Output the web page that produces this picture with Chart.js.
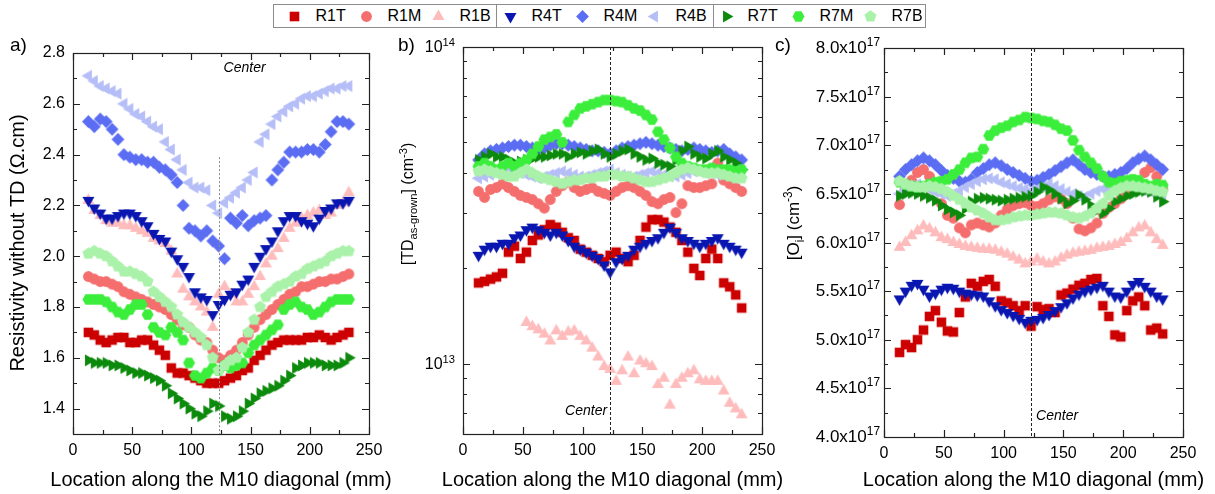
<!DOCTYPE html>
<html>
<head>
<meta charset="utf-8">
<title>Resistivity, TD and Oi along the M10 diagonal</title>
<script src="https://cdn.jsdelivr.net/npm/chart.js@4.4.1/dist/chart.umd.min.js"></script>
<style>
  body { margin: 0; background: #fff; }
  #page { position: relative; width: 1215px; height: 494px; overflow: hidden; font-family: "Liberation Sans", Arial, sans-serif; }
  #page > canvas { position: absolute; top: 0; }
  #legend { position: absolute; left: 273px; top: 4px; width: 651px; height: 22px; border: 1px solid #8c8c8c; background: #fff; z-index: 2; }
  .item { position: absolute; top: 0; height: 22px; display: flex; align-items: center; font-size: 16px; color: #000; }
  .item canvas { margin-right: 14px; }
  .sep { position: absolute; top: 0; width: 1px; height: 22px; background: #8c8c8c; }
</style>
</head>
<body>
<div id="page">
  <canvas id="chartA" width="400" height="494" style="left:0px"></canvas>
  <canvas id="chartB" width="400" height="494" style="left:390px"></canvas>
  <canvas id="chartC" width="445" height="494" style="left:770px"></canvas>
  <div id="legend"></div>
</div>
<script>
const FONT = '"Liberation Sans", Arial, sans-serif';

// Measurement positions along the diagonal (mm), shared by every series
const xPos = [13, 18, 23, 28, 33, 38, 43, 48, 53, 58, 63, 68, 73, 78, 83, 88, 93, 98, 103, 108, 113, 118, 123,
  128, 133, 138, 143, 148, 153, 158, 163, 168, 173, 178, 183, 188, 193, 198, 203, 208, 213, 218, 223, 228, 233];

const seriesNames = ['R1T', 'R1M', 'R1B', 'R4T', 'R4M', 'R4B', 'R7T', 'R7M', 'R7B'];

// Tick labels
const xTicks = [0, 50, 100, 150, 200, 250];
const resTicks = [1.4, 1.6, 1.8, 2.0, 2.2, 2.4, 2.6, 2.8];
const tdTicks = [1e13, 1e14];
const oiTicks = [4.0e17, 4.5e17, 5.0e17, 5.5e17, 6.0e17, 6.5e17, 7.0e17, 7.5e17, 8.0e17];
const centerPos = 123;
const xTitle = 'Location along the M10 diagonal (mm)';

// a) resistivity without TD (ohm.cm)
const resR1T = [1.70, 1.69, 1.67, 1.66, 1.67, 1.68, 1.68, 1.66, 1.66, 1.67, 1.67, 1.65, 1.63, 1.61, 1.56, 1.54, 1.54, 1.53, 1.52, 1.51, 1.50, 1.50, 1.50,
  1.51, 1.52, 1.53, 1.55, 1.56, 1.59, 1.61, 1.63, 1.65, 1.66, 1.67, 1.67, 1.67, 1.67, 1.68, 1.68, 1.69, 1.68, 1.67, 1.68, 1.69, 1.70];
const resR1M = [1.92, 1.91, 1.90, 1.90, 1.89, 1.88, 1.86, 1.85, 1.84, 1.83, 1.82, 1.81, 1.80, 1.79, 1.77, 1.75, 1.73, 1.72, 1.69, 1.67, 1.66, 1.63, 1.60,
  1.59, 1.61, 1.63, 1.66, 1.69, 1.72, 1.75, 1.77, 1.79, 1.81, 1.83, 1.85, 1.86, 1.88, 1.88, 1.89, 1.90, 1.90, 1.91, 1.91, 1.92, 1.93];
const resR1B = [2.22, 2.18, 2.16, 2.14, 2.13, 2.13, 2.12, 2.12, 2.11, 2.10, 2.09, 2.07, 2.06, 2.05, 2.02, 1.93, 1.87, 1.84, 1.82, 1.80, 1.78, 1.72, 1.85,
  1.88, 1.85, 1.82, 1.82, 1.85, 1.88, 1.92, 1.97, 2.00, 2.03, 2.07, 2.11, 2.13, 2.15, 2.16, 2.17, 2.18, 2.16, 2.17, 2.20, 2.21, 2.25];
const resR4T = [2.22, 2.19, 2.17, 2.15, 2.15, 2.16, 2.17, 2.17, 2.16, 2.14, 2.12, 2.09, 2.07, 2.06, 2.02, 1.99, 1.96, 1.92, 1.86, 1.84, 1.83, 1.77, 1.81,
  1.83, 1.85, 1.86, 1.89, 1.91, 1.96, 2.00, 2.03, 2.06, 2.10, 2.14, 2.16, 2.16, 2.14, 2.13, 2.12, 2.15, 2.18, 2.19, 2.21, 2.21, 2.22];
const resR4M = [2.53, 2.51, 2.54, 2.53, 2.50, 2.46, 2.40, 2.39, 2.38, 2.38, 2.37, 2.37, 2.35, 2.34, 2.32, 2.29, 2.20, 2.11, 2.10, 2.08, 2.10, 2.06, 2.04,
  1.99, 2.15, 2.13, 2.16, 2.12, 2.14, 2.15, 2.16, 2.30, 2.34, 2.37, 2.41, 2.41, 2.41, 2.42, 2.42, 2.41, 2.44, 2.49, 2.53, 2.53, 2.52];
const resR4B = [2.71, 2.69, 2.67, 2.66, 2.65, 2.64, 2.60, 2.58, 2.56, 2.55, 2.53, 2.51, 2.50, 2.45, 2.42, 2.38, 2.34, 2.29, 2.27, 2.27, 2.26, 2.20, 2.17,
  2.21, 2.23, 2.25, 2.27, 2.30, 2.33, 2.45, 2.48, 2.52, 2.55, 2.57, 2.59, 2.60, 2.62, 2.63, 2.63, 2.64, 2.65, 2.66, 2.66, 2.67, 2.67];
const resR7T = [1.59, 1.58, 1.58, 1.58, 1.57, 1.57, 1.56, 1.55, 1.54, 1.54, 1.53, 1.52, 1.51, 1.49, 1.46, 1.44, 1.42, 1.40, 1.38, 1.37, 1.39, 1.42, 1.41,
  1.37, 1.36, 1.37, 1.39, 1.42, 1.44, 1.46, 1.47, 1.48, 1.49, 1.51, 1.53, 1.56, 1.57, 1.58, 1.58, 1.58, 1.57, 1.57, 1.57, 1.58, 1.60];
const resR7M = [1.83, 1.83, 1.83, 1.82, 1.80, 1.78, 1.77, 1.79, 1.81, 1.81, 1.77, 1.72, 1.70, 1.69, 1.72, 1.70, 1.67, 1.58, 1.53, 1.52, 1.54, 1.56, 1.55,
  1.57, 1.56, 1.57, 1.58, 1.62, 1.65, 1.67, 1.69, 1.71, 1.73, 1.79, 1.81, 1.82, 1.80, 1.79, 1.77, 1.78, 1.80, 1.82, 1.83, 1.83, 1.83];
const resR7B = [2.01, 2.02, 2.01, 2.00, 1.98, 1.96, 1.94, 1.94, 1.93, 1.92, 1.90, 1.86, 1.84, 1.82, 1.80, 1.77, 1.74, 1.72, 1.70, 1.68, 1.65, 1.60, 1.55,
  1.57, 1.59, 1.60, 1.64, 1.70, 1.75, 1.80, 1.84, 1.86, 1.88, 1.89, 1.90, 1.92, 1.93, 1.95, 1.96, 1.97, 1.98, 2.00, 2.01, 2.02, 2.02];

// b) as-grown thermal donors (cm^-3)
const tdR1T = [1.8e13, 1.82e13, 1.85e13, 1.88e13, 1.93e13, 2.25e13, 2.35e13, 2.15e13, 2.25e13, 2.45e13, 2.55e13, 2.65e13, 2.75e13, 2.7e13, 2.6e13,
  2.5e13, 2.45e13, 2.3e13, 2.25e13, 2.2e13, 2.15e13, 2.1e13, 2.2e13, 2.25e13, 2.15e13, 2.1e13, 2.2e13, 2.45e13, 2.7e13, 2.85e13,
  2.85e13, 2.8e13, 2.7e13, 2.6e13, 2.45e13, 2.25e13, 2.0e13, 1.9e13, 2.15e13, 2.3e13, 2.15e13, 1.8e13, 1.75e13, 1.65e13, 1.5e13];
const tdR1M = [3.5e13, 3.35e13, 3.55e13, 3.6e13, 3.7e13, 3.6e13, 3.5e13, 3.4e13, 3.35e13, 3.3e13, 3.2e13, 3.1e13, 3.3e13, 3.5e13, 3.65e13,
  3.75e13, 3.6e13, 3.5e13, 3.55e13, 3.6e13, 3.5e13, 3.45e13, 3.4e13, 3.5e13, 3.6e13, 3.65e13, 3.6e13, 3.5e13, 3.4e13, 3.25e13,
  3.2e13, 3.3e13, 3.35e13, 3.0e13, 3.2e13, 3.65e13, 3.6e13, 3.6e13, 3.65e13, 3.7e13, 4.3e13, 3.8e13, 3.7e13, 3.6e13, 3.5e13];
const tdR1B = [null, null, null, null, null, null, null, null, 1.35e13, 1.31e13, 1.28e13, 1.24e13, 1.18e13, 1.27e13, 1.22e13,
  1.26e13, 1.27e13, 1.22e13, 1.18e13, 1.12e13, 1.05e13, 0.98e13, 0.96e13, 0.88e13, 0.95e13, 1.05e13, 0.93e13, 1.02e13, 1.0e13, 0.98e13,
  0.86e13, 0.9e13, 0.74e13, 0.86e13, 0.9e13, 0.93e13, 0.95e13, 0.89e13, 0.88e13, 0.88e13, 0.88e13, 0.82e13, 0.75e13, 0.72e13, 0.69e13];
const tdR4T = [2.2e13, 2.3e13, 2.35e13, 2.35e13, 2.4e13, 2.4e13, 2.5e13, 2.55e13, 2.65e13, 2.7e13, 2.65e13, 2.6e13, 2.55e13, 2.6e13, 2.55e13,
  2.45e13, 2.35e13, 2.3e13, 2.25e13, 2.2e13, 2.15e13, 2.05e13, 1.95e13, 2.1e13, 2.15e13, 2.2e13, 2.3e13, 2.35e13, 2.4e13, 2.45e13,
  2.5e13, 2.6e13, 2.7e13, 2.6e13, 2.5e13, 2.45e13, 2.4e13, 2.35e13, 2.4e13, 2.45e13, 2.5e13, 2.4e13, 2.35e13, 2.3e13, 2.25e13];
const tdR4M = [4.4e13, 4.6e13, 4.7e13, 4.75e13, 4.8e13, 4.85e13, 4.9e13, 4.9e13, 4.85e13, 4.8e13, 4.75e13, 4.8e13, 4.9e13, 4.95e13, 4.95e13,
  4.9e13, 4.85e13, 4.8e13, 4.75e13, 4.7e13, 4.7e13, 4.65e13, 4.6e13, 4.7e13, 4.8e13, 4.85e13, 4.9e13, 4.95e13, 5.0e13, 4.95e13,
  4.9e13, 4.85e13, 4.8e13, 4.75e13, 4.7e13, 4.75e13, 4.8e13, 4.75e13, 4.7e13, 4.65e13, 4.7e13, 4.75e13, 4.6e13, 4.5e13, 4.4e13];
const tdR4B = [3.85e13, 3.9e13, 3.95e13, 4.0e13, 4.05e13, 4.1e13, 4.1e13, 4.0e13, 3.95e13, 3.9e13, 3.85e13, 3.9e13, 3.95e13, 4.0e13, 4.05e13,
  4.0e13, 3.95e13, 3.9e13, 3.9e13, 3.95e13, 4.0e13, 4.05e13, 4.1e13, 4.0e13, 3.95e13, 3.9e13, 3.9e13, 3.95e13, 4.0e13, 4.05e13,
  4.0e13, 3.95e13, 3.9e13, 3.9e13, 3.95e13, 4.0e13, 4.05e13, 4.05e13, 4.0e13, 4.0e13, 3.95e13, 4.0e13, 4.05e13, 4.0e13, 3.95e13];
const tdR7T = [4.4e13, 4.5e13, 4.6e13, 4.5e13, 4.5e13, 4.4e13, 4.3e13, 4.35e13, 4.4e13, 4.45e13, 4.5e13, 4.5e13, 4.55e13, 4.6e13, 4.6e13,
  4.5e13, 4.6e13, 4.65e13, 4.6e13, 4.7e13, 4.75e13, 4.6e13, 4.5e13, 4.6e13, 4.7e13, 4.75e13, 4.6e13, 4.5e13, 4.4e13, 4.45e13,
  4.3e13, 4.25e13, 4.2e13, 4.4e13, 4.7e13, 4.85e13, 4.6e13, 4.5e13, 4.45e13, 4.6e13, 4.7e13, 4.5e13, 4.4e13, 4.3e13, 4.1e13];
const tdR7M = [4.2e13, 4.3e13, 4.2e13, 4.1e13, 4.2e13, 4.3e13, 4.2e13, 4.3e13, 4.4e13, 4.6e13, 4.85e13, 5.1e13, 5.2e13, 5.3e13, 5.0e13,
  5.8e13, 6.1e13, 6.4e13, 6.5e13, 6.6e13, 6.7e13, 6.8e13, 6.8e13, 6.75e13, 6.7e13, 6.55e13, 6.4e13, 6.3e13, 6.1e13, 5.9e13,
  5.4e13, 5.1e13, 4.8e13, 4.5e13, 4.3e13, 4.2e13, 4.15e13, 4.1e13, 4.1e13, 4.15e13, 4.1e13, 4.1e13, 4.1e13, 4.05e13, 4.1e13];
const tdR7B = [4.05e13, 4.1e13, 4.05e13, 4.0e13, 3.95e13, 3.9e13, 3.9e13, 4.0e13, 4.1e13, 4.0e13, 3.9e13, 3.85e13, 3.8e13, 3.75e13, 3.7e13,
  3.75e13, 3.8e13, 3.8e13, 3.85e13, 3.85e13, 3.9e13, 3.9e13, 3.95e13, 3.95e13, 3.9e13, 3.9e13, 3.85e13, 3.8e13, 3.75e13, 3.75e13,
  3.8e13, 3.85e13, 3.9e13, 4.0e13, 4.1e13, 4.15e13, 4.1e13, 4.05e13, 4.0e13, 4.0e13, 4.0e13, 3.95e13, 3.9e13, 3.85e13, 3.85e13];

// c) interstitial oxygen (cm^-3)
const oiR1T = [4.87e17, 4.95e17, 4.92e17, 5.00e17, 5.10e17, 5.24e17, 5.30e17, 5.18e17, 5.09e17, 5.08e17, 5.28e17, 5.44e17, 5.58e17, 5.55e17, 5.60e17,
  5.62e17, 5.55e17, 5.40e17, 5.38e17, 5.35e17, 5.30e17, 5.35e17, 5.14e17, 5.34e17, 5.31e17, 5.32e17, 5.28e17, 5.46e17, 5.48e17, 5.52e17,
  5.56e17, 5.58e17, 5.62e17, 5.63e17, 5.35e17, 5.24e17, 5.05e17, 5.03e17, 5.30e17, 5.40e17, 5.44e17, 5.35e17, 5.10e17, 5.12e17, 5.06e17];
const oiR1M = [6.39e17, 6.55e17, 6.64e17, 6.72e17, 6.75e17, 6.68e17, 6.55e17, 6.40e17, 6.28e17, 6.25e17, 6.15e17, 6.10e17, 6.18e17, 6.20e17, 6.18e17,
  6.16e17, 6.20e17, 6.28e17, 6.34e17, 6.38e17, 6.40e17, 6.41e17, 6.38e17, 6.37e17, 6.40e17, 6.44e17, 6.47e17, 6.45e17, 6.40e17, 6.25e17,
  6.14e17, 6.12e17, 6.15e17, 6.20e17, 6.30e17, 6.36e17, 6.40e17, 6.45e17, 6.50e17, 6.57e17, 6.63e17, 6.72e17, 6.77e17, 6.68e17, 6.55e17];
const oiR1B = [5.95e17, 6.00e17, 6.07e17, 6.12e17, 6.17e17, 6.14e17, 6.10e17, 6.05e17, 6.03e17, 6.00e17, 5.98e17, 5.96e17, 5.95e17, 5.94e17, 5.93e17,
  5.93e17, 5.92e17, 5.90e17, 5.88e17, 5.85e17, 5.82e17, 5.78e17, 5.80e17, 5.83e17, 5.80e17, 5.78e17, 5.80e17, 5.84e17, 5.87e17, 5.89e17,
  5.90e17, 5.91e17, 5.92e17, 5.94e17, 5.95e17, 5.96e17, 5.98e17, 6.00e17, 6.04e17, 6.10e17, 6.15e17, 6.17e17, 6.10e17, 6.03e17, 5.97e17];
const oiR4T = [5.42e17, 5.50e17, 5.56e17, 5.58e17, 5.52e17, 5.45e17, 5.48e17, 5.52e17, 5.54e17, 5.53e17, 5.50e17, 5.48e17, 5.47e17, 5.46e17, 5.45e17,
  5.40e17, 5.35e17, 5.31e17, 5.28e17, 5.25e17, 5.22e17, 5.18e17, 5.20e17, 5.21e17, 5.23e17, 5.26e17, 5.30e17, 5.34e17, 5.38e17, 5.43e17,
  5.47e17, 5.50e17, 5.52e17, 5.54e17, 5.56e17, 5.50e17, 5.45e17, 5.44e17, 5.50e17, 5.57e17, 5.60e17, 5.55e17, 5.50e17, 5.45e17, 5.42e17];
const oiR4M = [6.68e17, 6.75e17, 6.80e17, 6.84e17, 6.87e17, 6.84e17, 6.80e17, 6.74e17, 6.69e17, 6.66e17, 6.63e17, 6.62e17, 6.65e17, 6.72e17, 6.76e17,
  6.80e17, 6.82e17, 6.79e17, 6.75e17, 6.72e17, 6.69e17, 6.66e17, 6.63e17, 6.64e17, 6.67e17, 6.70e17, 6.74e17, 6.78e17, 6.82e17, 6.85e17,
  6.80e17, 6.75e17, 6.72e17, 6.70e17, 6.68e17, 6.68e17, 6.70e17, 6.72e17, 6.76e17, 6.82e17, 6.86e17, 6.89e17, 6.85e17, 6.80e17, 6.75e17];
const oiR4B = [6.50e17, 6.55e17, 6.58e17, 6.60e17, 6.58e17, 6.55e17, 6.52e17, 6.50e17, 6.48e17, 6.50e17, 6.53e17, 6.57e17, 6.60e17, 6.63e17, 6.65e17,
  6.66e17, 6.65e17, 6.62e17, 6.60e17, 6.58e17, 6.56e17, 6.55e17, 6.53e17, 6.55e17, 6.57e17, 6.60e17, 6.58e17, 6.55e17, 6.52e17, 6.50e17,
  6.48e17, 6.47e17, 6.50e17, 6.53e17, 6.55e17, 6.55e17, 6.57e17, 6.58e17, 6.60e17, 6.57e17, 6.55e17, 6.53e17, 6.52e17, 6.52e17, 6.50e17];
const oiR7T = [6.48e17, 6.50e17, 6.51e17, 6.50e17, 6.48e17, 6.46e17, 6.43e17, 6.38e17, 6.34e17, 6.31e17, 6.28e17, 6.35e17, 6.42e17, 6.45e17, 6.46e17,
  6.45e17, 6.44e17, 6.43e17, 6.44e17, 6.45e17, 6.46e17, 6.47e17, 6.48e17, 6.52e17, 6.57e17, 6.54e17, 6.50e17, 6.45e17, 6.40e17, 6.43e17,
  6.49e17, 6.44e17, 6.38e17, 6.33e17, 6.30e17, 6.35e17, 6.42e17, 6.45e17, 6.48e17, 6.50e17, 6.52e17, 6.53e17, 6.52e17, 6.47e17, 6.42e17];
const oiR7M = [6.62e17, 6.60e17, 6.58e17, 6.57e17, 6.58e17, 6.60e17, 6.62e17, 6.63e17, 6.65e17, 6.70e17, 6.75e17, 6.82e17, 6.87e17, 6.88e17, 6.96e17,
  7.10e17, 7.15e17, 7.18e17, 7.20e17, 7.24e17, 7.26e17, 7.29e17, 7.28e17, 7.27e17, 7.25e17, 7.24e17, 7.21e17, 7.17e17, 7.15e17, 7.05e17,
  6.95e17, 6.88e17, 6.82e17, 6.76e17, 6.68e17, 6.62e17, 6.61e17, 6.63e17, 6.64e17, 6.65e17, 6.64e17, 6.60e17, 6.58e17, 6.60e17, 6.59e17];
const oiR7B = [6.63e17, 6.60e17, 6.58e17, 6.57e17, 6.57e17, 6.58e17, 6.57e17, 6.55e17, 6.52e17, 6.48e17, 6.44e17, 6.40e17, 6.36e17, 6.33e17, 6.30e17,
  6.26e17, 6.23e17, 6.23e17, 6.24e17, 6.26e17, 6.27e17, 6.28e17, 6.28e17, 6.29e17, 6.30e17, 6.31e17, 6.31e17, 6.30e17, 6.28e17, 6.26e17,
  6.25e17, 6.27e17, 6.30e17, 6.35e17, 6.40e17, 6.48e17, 6.53e17, 6.56e17, 6.58e17, 6.58e17, 6.57e17, 6.56e17, 6.55e17, 6.53e17, 6.52e17];

// Marker look per series
const seriesColors = ['#cc0000', '#f56e6e', '#ffbcbc', '#0a16b0', '#5b6df2', '#b5bef7', '#0c8a0c', '#3cee3c', '#aaf2aa'];
const seriesShapes = ['square', 'circle', 'up', 'down', 'diamond', 'left', 'right', 'hex', 'pent'];
const polys = {
  up: [3, 6.9, -Math.PI / 2], down: [3, 6.9, Math.PI / 2], left: [3, 6.9, Math.PI], right: [3, 6.9, 0],
  diamond: [4, 6.4, -Math.PI / 2], hex: [6, 6, 0], pent: [5, 6.3, -Math.PI / 2]
};

function markerCanvas(shape, color) {
  const s = 15;
  const c = document.createElement('canvas');
  c.width = c.height = s;
  const g = c.getContext('2d');
  const m = s / 2;
  g.fillStyle = color;
  g.beginPath();
  if (shape === 'circle') {
    g.arc(m, m, 5.4, 0, Math.PI * 2);
  } else if (shape === 'square') {
    g.rect(m - 4.8, m - 4.8, 9.6, 9.6);
  } else {
    const [n, r, start] = polys[shape];
    for (let k = 0; k < n; k++) {
      const t = start + k * 2 * Math.PI / n;
      g.lineTo(m + r * Math.cos(t), m + r * Math.sin(t));
    }
  }
  g.closePath();
  g.fill();
  return c;
}

const markers = seriesNames.map((n, i) => markerCanvas(seriesShapes[i], seriesColors[i]));

// Legend box
const legend = document.getElementById('legend');
seriesNames.forEach((name, i) => {
  const item = document.createElement('div');
  item.className = 'item';
  item.style.left = (12.5 + 72 * i) + 'px';
  item.appendChild(markerCanvas(seriesShapes[i], seriesColors[i]));
  item.appendChild(document.createTextNode(name));
  legend.appendChild(item);
});
[222, 439].forEach(left => {
  const sep = document.createElement('div');
  sep.className = 'sep';
  sep.style.left = left + 'px';
  legend.appendChild(sep);
});

// Text with super/subscripts: parts = [[text, 'sup'|'sub'|undefined], ...]
function drawRich(ctx, parts, x, y, size, align) {
  let total = 0;
  const items = parts.map(([t, kind]) => {
    const s = kind ? size * 0.7 : size;
    ctx.font = s + 'px ' + FONT;
    const w = ctx.measureText(t).width;
    total += w;
    return { t, kind, s, w };
  });
  let cx = align === 'right' ? x - total : align === 'center' ? x - total / 2 : x;
  ctx.textAlign = 'left';
  ctx.textBaseline = 'alphabetic';
  items.forEach(it => {
    ctx.font = it.s + 'px ' + FONT;
    const dy = it.kind === 'sup' ? -size * 0.4 : it.kind === 'sub' ? size * 0.28 : 0;
    ctx.fillText(it.t, cx, y + dy);
    cx += it.w;
  });
}

function midpoints(vals) {
  const out = [];
  for (let i = 1; i < vals.length; i++) out.push((vals[i - 1] + vals[i]) / 2);
  return out;
}

const panels = {
  chartA: {
    tag: 'a)', tagX: 10,
    title: [['Resistivity without TD (Ω.cm)']], titleSize: 20, titleX: 24, titleY: 243,
    yMajor: resTicks, yMinor: midpoints(resTicks),
    centerFrom: 2.39, centerColor: '#8a8a8a', centerDash: [2, 2],
    centerAlign: 'center', centerDx: 26, centerY: 72
  },
  chartB: {
    tag: 'b)', tagX: 8,
    title: [['[TD'], ['as-grown', 'sub'], ['] (cm'], ['-3', 'sup'], [')']], titleSize: 16, titleX: 23, titleY: 204,
    yMajor: tdTicks, yMinor: [7e12, 8e12, 9e12, 2e13, 3e13, 4e13, 5e13, 6e13, 7e13, 8e13, 9e13],
    tickLabel: v => [['10'], [String(Math.round(Math.log10(v))), 'sup']], tickSize: 16, tickRight: 65,
    centerFrom: null, centerColor: '#222', centerDash: [3, 2],
    centerAlign: 'right', centerDx: -3, centerY: 415
  },
  chartC: {
    tag: 'c)', tagX: 5,
    title: [['[O'], ['i', 'sub'], ['] (cm'], ['-3', 'sup'], [')']], titleSize: 17, titleX: 29, titleY: 223,
    yMajor: oiTicks, yMinor: midpoints(oiTicks),
    tickLabel: v => [[(v / 1e17).toFixed(1) + 'x10'], ['17', 'sup']], tickSize: 17, tickRight: 110,
    centerFrom: null, centerColor: '#222', centerDash: [3, 2],
    centerAlign: 'left', centerDx: 5, centerY: 420
  }
};

const decorPlugin = {
  id: 'decor',
  afterDatasetsDraw(chart) {
    const p = panels[chart.canvas.id];
    const { ctx, chartArea: a } = chart;
    const xs = chart.scales.x, ys = chart.scales.y;
    const L = Math.round(a.left), R = Math.round(a.right), T = Math.round(a.top), B = Math.round(a.bottom);
    ctx.save();
    // centre of the wafer
    const cx = Math.round(xs.getPixelForValue(centerPos)) + 0.5;
    ctx.strokeStyle = p.centerColor;
    ctx.lineWidth = 1;
    ctx.setLineDash(p.centerDash);
    ctx.beginPath();
    ctx.moveTo(cx, p.centerFrom ? ys.getPixelForValue(p.centerFrom) : T);
    ctx.lineTo(cx, B);
    ctx.stroke();
    ctx.setLineDash([]);
    // box frame with inward ticks on the four sides
    ctx.strokeStyle = '#222';
    ctx.lineWidth = 1.2;
    ctx.strokeRect(L + 0.5, T + 0.5, R - L, B - T);
    ctx.beginPath();
    const xt = (v, len) => {
      const px = Math.round(xs.getPixelForValue(v)) + 0.5;
      ctx.moveTo(px, B); ctx.lineTo(px, B - len);
      ctx.moveTo(px, T); ctx.lineTo(px, T + len);
    };
    const yt = (v, len) => {
      const py = Math.round(ys.getPixelForValue(v)) + 0.5;
      ctx.moveTo(L, py); ctx.lineTo(L + len, py);
      ctx.moveTo(R, py); ctx.lineTo(R - len, py);
    };
    xTicks.forEach(v => xt(v, 7));
    midpoints(xTicks).forEach(v => xt(v, 4));
    p.yMajor.forEach(v => yt(v, 7));
    p.yMinor.forEach(v => yt(v, 4));
    ctx.stroke();
    ctx.restore();
  },
  afterDraw(chart) {
    const p = panels[chart.canvas.id];
    const { ctx, chartArea: a } = chart;
    const xs = chart.scales.x, ys = chart.scales.y;
    ctx.save();
    ctx.fillStyle = '#000';
    ctx.textBaseline = 'alphabetic';
    ctx.font = '19px ' + FONT;
    ctx.textAlign = 'left';
    ctx.fillText(p.tag, p.tagX, 51);
    // x axis title, full width (no squeezing to the plot width)
    ctx.font = '20px ' + FONT;
    ctx.textAlign = 'center';
    ctx.fillText(xTitle, (a.left + a.right) / 2, 486);
    ctx.font = 'italic 14px ' + FONT;
    ctx.textAlign = p.centerAlign;
    ctx.fillText('Center', xs.getPixelForValue(centerPos) + p.centerDx, p.centerY);
    ctx.save();
    ctx.translate(p.titleX, p.titleY);
    ctx.rotate(-Math.PI / 2);
    drawRich(ctx, p.title, 0, 0, p.titleSize, 'center');
    ctx.restore();
    if (p.tickLabel) {
      p.yMajor.forEach(v => {
        drawRich(ctx, p.tickLabel(v), p.tickRight, Math.round(ys.getPixelForValue(v)) + 5, p.tickSize, 'right');
      });
    }
    ctx.restore();
  }
};

function makeDatasets(seriesValues) {
  return seriesValues.map((vals, i) => ({
    label: seriesNames[i],
    data: xPos.map((x, k) => ({ x: x, y: vals[k] })).filter(pt => pt.y !== null),
    pointStyle: markers[i],
    pointRadius: 6,
    order: seriesNames.length - i,
    showLine: false
  }));
}

function xScale(height) {
  return {
    type: 'linear', min: 0, max: 250,
    afterBuildTicks: s => { s.ticks = xTicks.map(v => ({ value: v })); },
    afterFit: s => { s.height = height; },
    grid: { display: false, drawTicks: false },
    border: { display: false },
    ticks: { color: '#000', font: { size: 16 }, padding: 7, maxRotation: 0, autoSkip: false }
  };
}

function makeChart(id, datasets, yScale, pad, xHeight, yWidth) {
  yScale.afterFit = s => { s.width = yWidth; };
  yScale.grid = { display: false, drawTicks: false };
  yScale.border = { display: false };
  return new Chart(document.getElementById(id), {
    type: 'scatter',
    data: { datasets: datasets },
    options: {
      responsive: false,
      animation: false,
      events: [],
      layout: { padding: pad },
      plugins: { legend: { display: false }, tooltip: { enabled: false } },
      scales: { x: xScale(xHeight), y: yScale }
    },
    plugins: [decorPlugin]
  });
}

window.onload = function() {
  Chart.defaults.font.family = FONT;

  makeChart('chartA',
    makeDatasets([resR1T, resR1M, resR1B, resR4T, resR4M, resR4B, resR7T, resR7M, resR7B]),
    {
      type: 'linear', min: 1.3, max: 2.8,
      afterBuildTicks: s => { s.ticks = resTicks.map(v => ({ value: v })); },
      ticks: { color: '#000', font: { size: 16 }, padding: 8, callback: v => v.toFixed(1) }
    },
    { left: 0, right: 31, top: 53, bottom: 0 }, 60, 73);

  makeChart('chartB',
    makeDatasets([tdR1T, tdR1M, tdR1B, tdR4T, tdR4M, tdR4B, tdR7T, tdR7M, tdR7B]),
    { type: 'logarithmic', min: 6e12, max: 1e14, ticks: { display: false } },
    { left: 0, right: 28, top: 47, bottom: 0 }, 60, 73);

  makeChart('chartC',
    makeDatasets([oiR1T, oiR1M, oiR1B, oiR4T, oiR4M, oiR4B, oiR7T, oiR7M, oiR7B]),
    { type: 'linear', min: 4.0e17, max: 8.0e17, ticks: { display: false } },
    { left: 0, right: 32, top: 48, bottom: 0 }, 57, 114);
};
</script>
</body>
</html>
